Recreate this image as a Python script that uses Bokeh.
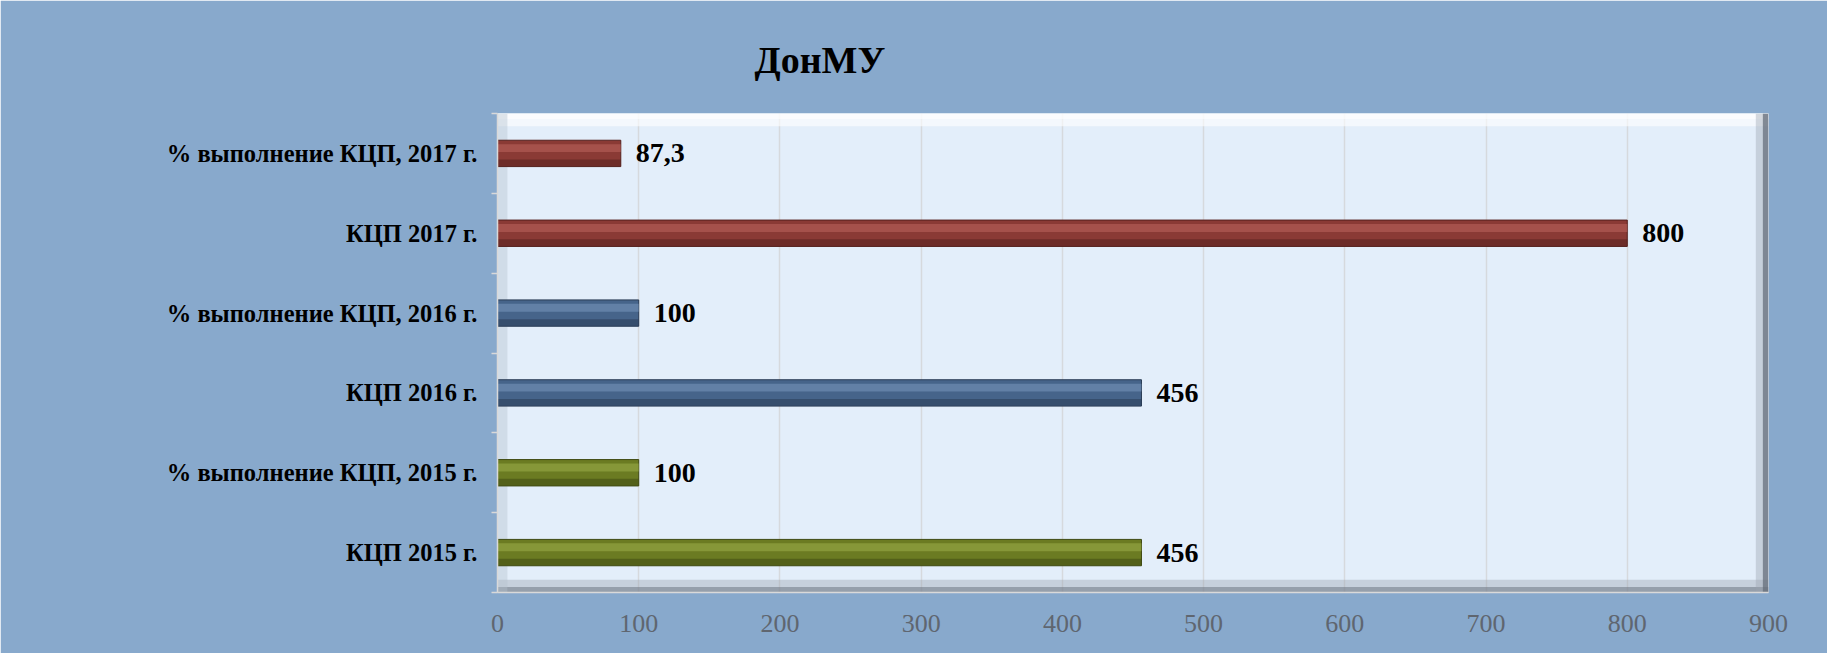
from bokeh.plotting import figure
from bokeh.models import FixedTicker, BoxAnnotation, ColumnDataSource
from bokeh.core.properties import value
from bokeh.embed import file_html
from bokeh.resources import INLINE

# ---- data ----
categories = ["КЦП 2015 г.", "% выполнение КЦП, 2015 г.", "КЦП 2016 г.",
              "% выполнение КЦП, 2016 г.", "КЦП 2017 г.", "% выполнение КЦП, 2017 г."]
values = [456, 100, 456, 100, 800, 87.3]
value_labels = ["456", "100", "456", "100", "800", "87,3"]
groups = ["2015", "2015", "2016", "2016", "2017", "2017"]
x_ticks = [0, 100, 200, 300, 400, 500, 600, 700, 800, 900]
title_text = "ДонМУ"

# ---- styles ----
palette = {
    "2015": ("#6B7B22", "#98AA48", "#3F4A12"),
    "2016": ("#46648A", "#7593B9", "#2A3C55"),
    "2017": ("#8A3A35", "#B8605A", "#55211E"),
}
BG = "#88A9CC"
PLOT_BG = "#E3EEFA"
SERIF = "Liberation Serif"
BAR_H = 0.33

n = len(categories)
pos = list(range(n))
XMAX = x_ticks[-1]

W, H = 1827, 653
LEFT, RIGHT, TOP, BOTTOM = 497, 59, 113, 61

p = figure(width=W, height=H, output_backend="svg", toolbar_location=None,
           x_range=(0, XMAX), y_range=(-0.5, n - 0.5),
           min_border_left=LEFT, min_border_right=RIGHT, min_border_top=TOP, min_border_bottom=BOTTOM)
p.background_fill_color = PLOT_BG
p.border_fill_color = BG
p.outline_line_color = None

# title
p.title.text = title_text
p.title.align = "left"
p.title.offset = 257
p.title.text_font = SERIF
p.title.text_font_size = "38px"
p.title.text_font_style = "bold"
p.title.text_color = "black"
p.title.standoff = 66

# plot-area bevel
p.add_layout(BoxAnnotation(bottom=n - 0.5 - 0.16, top=n - 0.5, fill_color="white", fill_alpha=0.6, line_color=None, level="underlay"))
p.add_layout(BoxAnnotation(bottom=n - 0.5 - 0.07, top=n - 0.5, fill_color="white", fill_alpha=0.6, line_color=None, level="underlay"))
p.add_layout(BoxAnnotation(bottom=-0.5, top=-0.5 + 0.16, fill_color="#9AA3AE", fill_alpha=0.4, line_color=None, level="underlay"))
p.add_layout(BoxAnnotation(bottom=-0.5, top=-0.5 + 0.07, fill_color="#6E7784", fill_alpha=0.55, line_color=None, level="underlay"))
p.add_layout(BoxAnnotation(left=XMAX - 9, right=XMAX, fill_color="#9AA3AE", fill_alpha=0.4, line_color=None, level="underlay"))
p.add_layout(BoxAnnotation(left=XMAX - 4, right=XMAX, fill_color="#5F6875", fill_alpha=0.7, line_color=None, level="underlay"))
p.add_layout(BoxAnnotation(left=0, right=7, fill_color="#B5C0CC", fill_alpha=0.4, line_color=None, level="underlay"))

# grid
p.xgrid.ticker = FixedTicker(ticks=x_ticks)
p.xgrid.grid_line_color = "#D6D9DD"
p.xgrid.grid_line_width = 1.5
p.ygrid.grid_line_color = None

# axes
p.xaxis.ticker = FixedTicker(ticks=x_ticks)
p.xaxis.axis_line_color = "#D9D9D9"
p.xaxis.axis_line_width = 1.5
p.xaxis.major_tick_line_color = None
p.xaxis.minor_tick_line_color = None
p.xaxis.major_label_text_font = SERIF
p.xaxis.major_label_text_font_size = "26px"
p.xaxis.major_label_text_color = "#5F6670"
p.xaxis.major_label_standoff = 16

p.yaxis.ticker = FixedTicker(ticks=pos, minor_ticks=[i - 0.5 for i in range(n + 1)])
p.yaxis.major_label_overrides = {i: c for i, c in zip(pos, categories)}
p.yaxis.axis_line_color = "#D9D9D9"
p.yaxis.axis_line_width = 1.5
p.yaxis.major_tick_line_color = None
p.yaxis.minor_tick_line_color = "#D9D9D9"
p.yaxis.minor_tick_line_width = 1.5
p.yaxis.minor_tick_out = 6
p.yaxis.minor_tick_in = 0
p.yaxis.major_label_text_font = SERIF
p.yaxis.major_label_text_font_style = "bold"
p.yaxis.major_label_text_font_size = "24.5px"
p.yaxis.major_label_text_color = "black"
p.yaxis.major_label_standoff = 14

# bars with bevel shading
main_c = [palette[g][0] for g in groups]
light_c = [palette[g][1] for g in groups]
dark_c = [palette[g][2] for g in groups]
src = ColumnDataSource(dict(
    y=pos, val=values, main=main_c, light=light_c, dark=dark_c,
    y_top=[y + BAR_H * 0.2 for y in pos],
    y_bot=[y - BAR_H * 0.36 for y in pos],
    lbl=value_labels,
))
p.hbar(y="y", left=0, right="val", height=BAR_H, source=src, fill_color="main", line_color="dark", line_width=1)
p.hbar(y="y_top", left=0, right="val", height=BAR_H * 0.3, source=src, fill_color="light", fill_alpha=0.6, line_color=None)
p.hbar(y="y_bot", left=0, right="val", height=BAR_H * 0.26, source=src, fill_color="dark", fill_alpha=0.55, line_color=None)

p.text(x="val", y="y", text="lbl", source=src, x_offset=15, text_baseline="middle",
       text_font=value(SERIF), text_font_size="28px", text_font_style="bold", text_color="black")

open("out.html", "w").write(file_html(p, INLINE))
